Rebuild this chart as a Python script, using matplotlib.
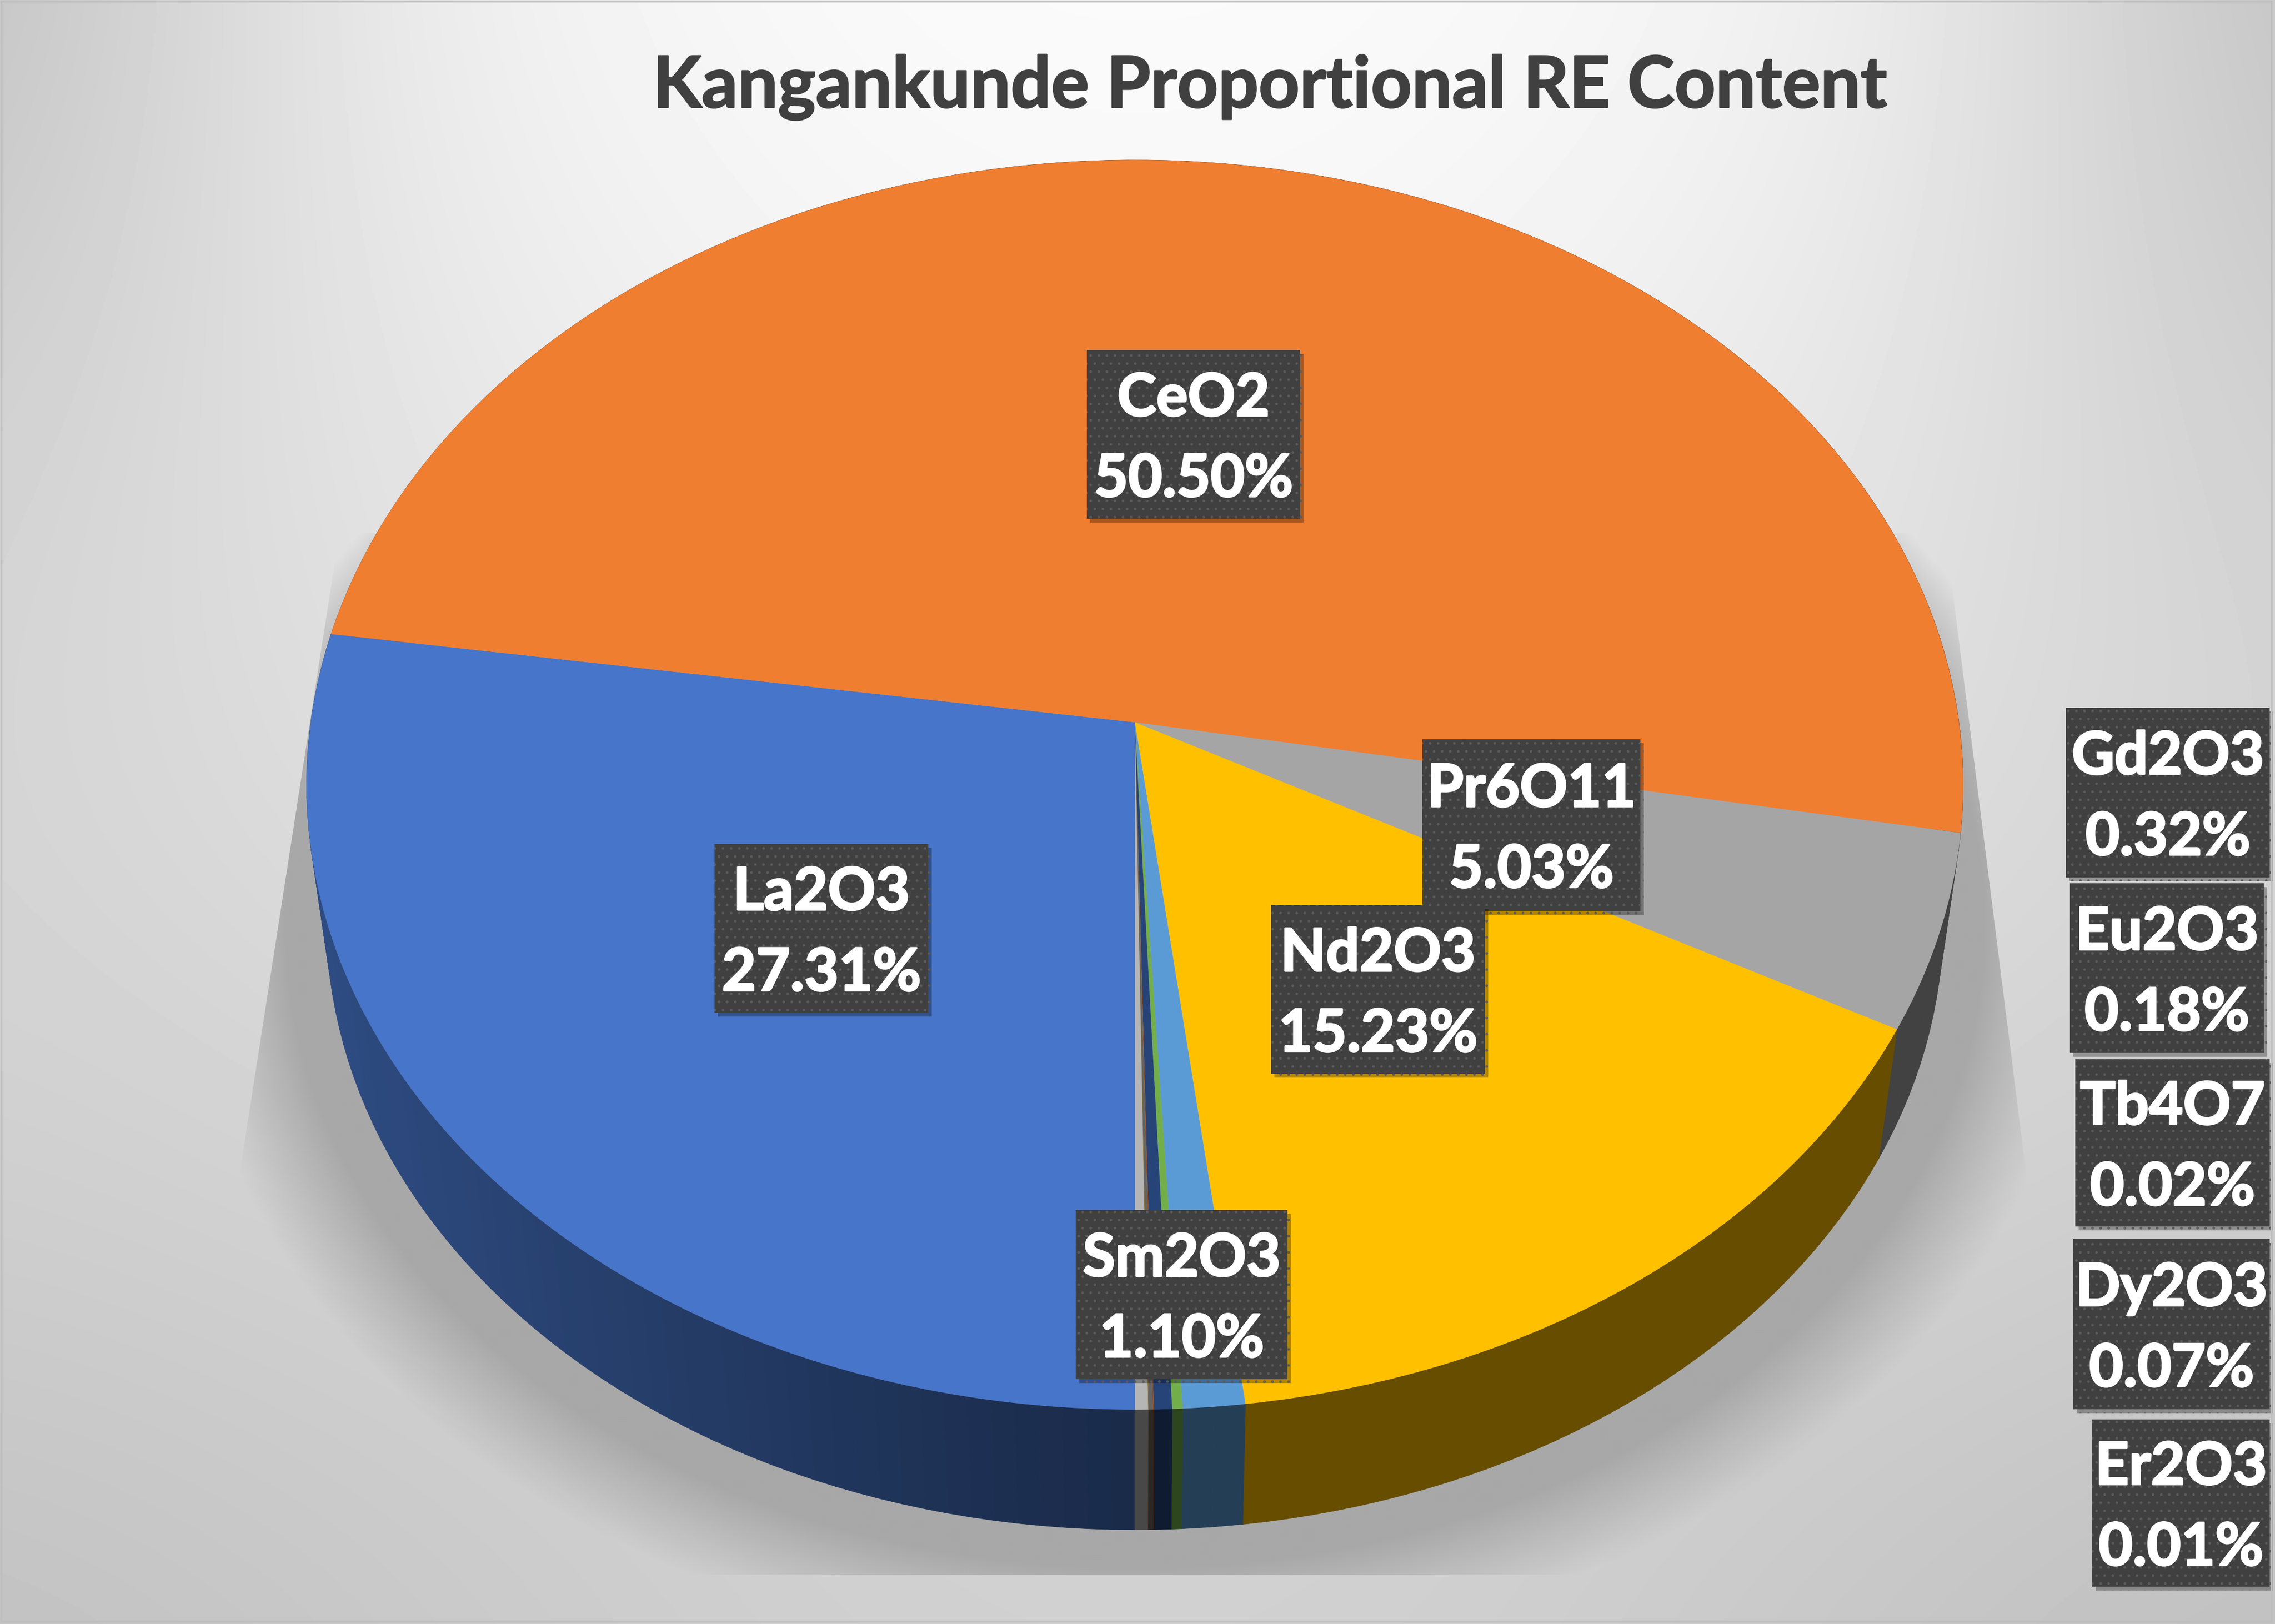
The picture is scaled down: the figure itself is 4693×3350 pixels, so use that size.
import numpy as np
import matplotlib
matplotlib.use('Agg')
import matplotlib.pyplot as plt
import matplotlib.patheffects as pe
from matplotlib.patches import Polygon, Rectangle
from matplotlib.transforms import Transform

plt.rcParams['font.family'] = ['Lato', 'DejaVu Sans']
plt.rcParams['hatch.linewidth'] = 0.5

# data (the last slice has no label in the original)
names = ['La2O3', 'CeO2', 'Pr6O11', 'Nd2O3', 'Sm2O3', 'Eu2O3', 'Gd2O3', 'Tb4O7', 'Dy2O3', 'Er2O3', '']
values = [27.31, 50.50, 5.03, 15.23, 1.10, 0.18, 0.32, 0.02, 0.07, 0.01, 0.23]
colors = ['#4775C9', '#F07E31', '#A5A5A5', '#FFC000', '#5B9BD5', '#72AF4A',
          '#264478', '#9E480E', '#636363', '#997300', '#B5B5B5']

# label boxes in pixels: x0, x1, y0, y1
label_boxes = {
    'CeO2': (2242, 2682, 722, 1070),
    'La2O3': (1474, 1915, 1741, 2089),
    'Nd2O3': (2622, 3063, 1867, 2215),
    'Pr6O11': (2934, 3384, 1525, 1879),
    'Sm2O3': (2219, 2656, 2496, 2845),
    'Gd2O3': (4262, 4682, 1460, 1810),
    'Eu2O3': (4270, 4670, 1822, 2172),
    'Tb4O7': (4281, 4682, 2185, 2530),
    'Dy2O3': (4277, 4682, 2556, 2907),
    'Er2O3': (4316, 4682, 2928, 3273),
}

W, H = 4693, 3350
cx, cy = 2341, 1490    # pie centre on the page
a, b, k = 1700, 1276, 0.1    # tilt of the disc
depth, shrink = 282, 0.976    # how far the base sits under the top


class PieTilt(Transform):
    input_dims = 2
    output_dims = 2

    def transform_non_affine(self, xy):
        xy = np.asarray(xy)
        w = 1 + k * xy[:, 1]
        return np.column_stack([cx + a * xy[:, 0] / w, cy - b * xy[:, 1] / w])


def base_point(x, y):
    w = 1 + k * y
    return cx + shrink * a * x / w, cy + depth - shrink * b * y / w


fig = plt.figure(figsize=(W / 300, H / 300), dpi=300)
ax = fig.add_axes([0, 0, 1, 1])

# page background
bg = np.array([
    [190, 238, 250, 252, 250, 240, 190],
    [208, 228, 242, 246, 242, 228, 206],
    [213, 222, 230, 234, 230, 222, 212],
    [206, 210, 212, 214, 212, 210, 204],
    [192, 198, 206, 208, 206, 196, 190],
], dtype=float)
dx, dy = W / 6, H / 4
ax.imshow(bg, cmap='gray', vmin=0, vmax=255, interpolation='bicubic', aspect='auto',
          extent=(-dx / 2, W + dx / 2, H + dy / 2, -dy / 2), zorder=0)

# soft shadow under the pie, cut off by a trapezoid
gx, gy = np.meshgrid(np.arange(0, W, 4), np.arange(0, H, 4))
px = (gx - cx) / shrink
py = (gy - cy - depth) / shrink
disc_y = -py / (b + k * py)
disc_x = px * (1 + k * disc_y) / a
dist = (np.hypot(disc_x, disc_y) - 1) * 1600
alpha = np.clip((270 - dist) / 190, 0, 1)
shadow = np.zeros(gx.shape + (4,))
shadow[..., :3] = 0xA8 / 255
shadow[..., 3] = alpha
im = ax.imshow(shadow, extent=(0, W, H, 0), aspect='auto', zorder=1, interpolation='bilinear')
trap = Polygon([(700, 1100), (4013, 1100), (4284, 3248), (366, 3248)], transform=ax.transData,
               fill=False, lw=0)
ax.add_patch(trap)
im.set_clip_path(trap)

# pie top
wedges, _ = ax.pie(values, colors=colors, startangle=270, counterclock=False, normalize=True,
                   wedgeprops=dict(linewidth=0, zorder=4))
tilt = PieTilt()
for wedge in wedges:
    wedge.set_transform(tilt + ax.transData)


def side_shade(x):
    return 0.36 + 0.3 * (-x) if x < 0 else 0.40


# pie side wall, cut in thin strips so the shade can change along it
strips = []
for wedge in wedges:
    n = max(int((wedge.theta2 - wedge.theta1) / 1.5), 1)
    th = np.radians(np.linspace(wedge.theta1, wedge.theta2, n + 1))
    rgb = np.array(matplotlib.colors.to_rgb(wedge.get_facecolor()))
    for t0, t1 in zip(th[:-1], th[1:]):
        x0, y0, x1, y1 = np.cos(t0), np.sin(t0), np.cos(t1), np.sin(t1)
        top = tilt.transform_non_affine(np.array([[x0, y0], [x1, y1]]))
        pts = [top[0], top[1], base_point(x1, y1), base_point(x0, y0)]
        strips.append(((y0 + y1) / 2, pts, rgb * side_shade((x0 + x1) / 2)))
for _, pts, col in sorted(strips, key=lambda s: -s[0]):
    ax.add_patch(Polygon(pts, facecolor=col, edgecolor=col, lw=0.2, zorder=3))

# data labels
bolder = [pe.withStroke(linewidth=0.9, foreground='white')]
for name, val in zip(names, values):
    if name == '':
        continue
    x0, x1, y0, y1 = label_boxes[name]
    box = Rectangle((x0, y0), x1 - x0, y1 - y0, facecolor='#404040', edgecolor='#5A5A5A',
                    hatch='...', lw=0, zorder=6)
    box.set_path_effects([pe.withSimplePatchShadow(offset=(1.8, -1.8), shadow_rgbFace='black', alpha=0.3)])
    ax.add_patch(box)
    ax.text((x0 + x1) / 2, (y0 + y1) / 2 + 10, f'{name}\n{val:.2f}%', color='white', fontsize=29.2,
            fontweight='bold', ha='center', va='center', linespacing=1.6, zorder=7,
            path_effects=bolder)

ax.text(2620, 180, 'Kangankunde Proportional RE Content', color='#404040', fontsize=35.3,
        fontweight='bold', ha='center', va='center', zorder=7,
        path_effects=[pe.withStroke(linewidth=0.7, foreground='#404040')])

# chart border
ax.add_patch(Rectangle((3, 3), W - 10, H - 8, fill=False, edgecolor='#BEBEBE', lw=1, zorder=8))

ax.set_aspect('auto')
ax.set_xlim(0, W)
ax.set_ylim(H, 0)
ax.axis('off')

fig.savefig('out.png', dpi=300)
